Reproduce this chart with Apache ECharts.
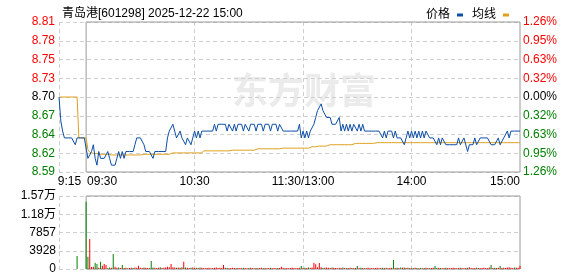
<!DOCTYPE html>
<html><head><meta charset="utf-8">
<script src="https://cdn.jsdelivr.net/npm/echarts@6/dist/echarts.min.js"></script>
<style>html,body{margin:0;padding:0;background:#fff}#c{width:578px;height:276px}</style>
</head><body><div id="c"></div>
<script>
const titleText = '青岛港[601298] 2025-12-22 15:00';
const prevClose = 8.70;
const priceRange = 0.11;
const priceStep = 0.0275;
const priceTickLabels = ['8.59','8.62','8.64','8.67','8.70','8.73','8.75','8.78','8.81'];
const pctTickLabels = ['1.26%','0.95%','0.63%','0.32%','0.00%','0.32%','0.63%','0.95%','1.26%'];
const volMax = 15714;
const volStep = 3928.5;
const volTickLabels = ['0','3928','7857','1.18万','1.57万'];
const timeTickIndex = [0,15,75,135,195,255];
const timeTickLabels = ['9:15','09:30','10:30','11:30/13:00','14:00','15:00'];
const gridLineIndex = [0,75,135,195];
const legendNames = ['价格','均线'];

const price = [
8.70,8.665,8.65,8.64,8.64,8.64,8.64,8.64,8.64,8.63,
8.64,8.64,8.64,8.64,8.64,8.64,8.61,8.61,8.62,8.63,
8.61,8.60,8.62,8.61,8.61,8.61,8.61,8.62,8.61,8.60,
8.60,8.60,8.61,8.62,8.61,8.62,8.61,8.62,8.62,8.62,
8.62,8.62,8.63,8.64,8.64,8.64,8.64,8.63,8.62,8.62,
8.62,8.62,8.61,8.62,8.62,8.62,8.62,8.62,8.62,8.62,
8.64,8.65,8.65,8.66,8.65,8.64,8.64,8.65,8.64,8.64,
8.63,8.64,8.64,8.63,8.64,8.65,8.64,8.65,8.64,8.65,
8.65,8.65,8.65,8.65,8.65,8.65,8.66,8.65,8.66,8.66,
8.66,8.66,8.66,8.65,8.66,8.66,8.65,8.66,8.65,8.66,
8.66,8.66,8.65,8.66,8.66,8.65,8.66,8.66,8.66,8.65,
8.66,8.66,8.66,8.65,8.66,8.66,8.66,8.65,8.66,8.66,
8.66,8.65,8.66,8.66,8.65,8.65,8.65,8.65,8.65,8.65,
8.65,8.65,8.65,8.66,8.64,8.65,8.64,8.65,8.64,8.65,
8.65,8.66,8.67,8.68,8.68,8.69,8.68,8.68,8.67,8.67,
8.67,8.66,8.66,8.66,8.66,8.67,8.65,8.66,8.65,8.66,
8.65,8.66,8.65,8.66,8.66,8.65,8.66,8.65,8.66,8.65,
8.65,8.65,8.65,8.65,8.65,8.65,8.65,8.65,8.65,8.64,
8.65,8.64,8.65,8.65,8.65,8.64,8.65,8.64,8.64,8.64,
8.64,8.63,8.64,8.65,8.64,8.65,8.64,8.65,8.64,8.65,
8.64,8.65,8.64,8.65,8.65,8.64,8.64,8.64,8.64,8.63,
8.64,8.63,8.64,8.64,8.63,8.63,8.63,8.63,8.63,8.63,
8.63,8.64,8.63,8.63,8.64,8.64,8.62,8.63,8.63,8.63,
8.64,8.63,8.63,8.64,8.64,8.64,8.64,8.64,8.64,8.63,
8.63,8.63,8.63,8.64,8.63,8.63,8.64,8.64,8.65,8.64,
8.65,8.65,8.65,8.65,8.65,8.65
];

const avgPrice = [
8.70,8.70,8.70,8.70,8.70,8.70,8.70,8.70,8.70,8.70,
8.70,8.64,8.64,8.64,8.64,8.64,8.623,8.619,8.618,8.617,
8.617,8.617,8.617,8.616,8.616,8.616,8.616,8.616,8.616,8.615,
8.615,8.615,8.615,8.615,8.615,8.615,8.615,8.615,8.615,8.615,
8.615,8.615,8.615,8.615,8.615,8.615,8.616,8.616,8.616,8.616,
8.616,8.616,8.616,8.616,8.616,8.616,8.616,8.616,8.616,8.616,
8.616,8.616,8.618,8.618,8.618,8.618,8.618,8.618,8.618,8.618,
8.618,8.618,8.618,8.618,8.618,8.618,8.618,8.618,8.618,8.618,
8.621,8.621,8.621,8.621,8.621,8.621,8.621,8.621,8.621,8.621,
8.621,8.621,8.621,8.621,8.621,8.621,8.622,8.622,8.622,8.622,
8.622,8.622,8.622,8.622,8.622,8.622,8.622,8.622,8.622,8.622,
8.624,8.624,8.624,8.624,8.624,8.624,8.624,8.624,8.624,8.624,
8.624,8.624,8.624,8.625,8.625,8.625,8.625,8.625,8.625,8.625,
8.625,8.625,8.625,8.625,8.625,8.625,8.625,8.625,8.625,8.627,
8.627,8.627,8.627,8.627,8.628,8.628,8.628,8.628,8.628,8.628,
8.630,8.630,8.630,8.630,8.630,8.630,8.630,8.630,8.630,8.630,
8.630,8.630,8.630,8.630,8.632,8.632,8.632,8.632,8.632,8.632,
8.632,8.632,8.632,8.632,8.632,8.632,8.633,8.633,8.633,8.633,
8.633,8.633,8.633,8.633,8.633,8.633,8.633,8.633,8.633,8.633,
8.633,8.633,8.633,8.633,8.633,8.633,8.633,8.633,8.633,8.633,
8.633,8.633,8.633,8.633,8.633,8.633,8.633,8.633,8.633,8.633,
8.633,8.633,8.633,8.633,8.633,8.633,8.633,8.633,8.633,8.633,
8.633,8.633,8.633,8.633,8.633,8.633,8.633,8.633,8.633,8.633,
8.633,8.633,8.633,8.633,8.633,8.633,8.633,8.633,8.633,8.633,
8.633,8.633,8.633,8.633,8.633,8.633,8.633,8.633,8.633,8.633,
8.633,8.633,8.633,8.633,8.633,8.633
];

const volume = [
0,0,0,0,0,0,0,0,0,0,
2800,0,0,0,0,14500,2650,6450,450,500,
1360,1080,290,1580,720,1080,860,180,300,250,
3230,500,250,300,220,860,200,250,180,200,
250,200,300,280,720,250,200,300,250,220,
200,1720,300,250,200,250,350,200,250,300,
500,350,1080,400,300,250,300,250,400,1580,
300,250,200,250,300,200,250,200,300,250,
200,150,200,250,150,200,250,300,200,250,
200,860,250,200,150,200,250,200,150,200,
200,150,250,200,150,200,250,200,150,200,
150,200,250,150,200,150,200,250,150,200,
150,200,200,500,250,150,200,150,200,250,
200,150,200,250,650,200,250,200,300,250,
300,1360,1000,400,1290,350,200,250,300,250,
200,300,250,200,150,250,200,300,200,150,
200,250,200,150,200,650,200,250,200,150,
200,250,150,200,150,200,250,150,200,250,
200,250,150,200,250,1940,200,250,200,300,
250,300,200,250,200,150,200,250,200,150,
200,150,200,250,200,150,200,250,650,200,
250,200,150,200,250,200,150,200,250,200,
150,200,250,200,150,200,250,400,200,150,
200,250,200,150,200,250,200,150,300,860,
200,250,200,250,650,200,250,200,300,400,
250,200,300,250,250,720
];

const downBars = [10,15,16,20,21,23,27,28,30,33,35,38,41,47,51,52,56,65,68,70,73,76,78,93,98,102,105,109,113,117,121,134,136,138,146,151,157,159,162,165,167,169,179,181,185,187,189,191,194,196,198,200,202,205,208,209,211,214,222,226,231,239,241,244,252];

// minute categories 9:15..11:30, 13:01..15:00
const minutes = [];
function pad(n){return (n<10?'0':'')+n;}
for (let m = 9*60+15; m <= 11*60+30; m++) minutes.push(Math.floor(m/60)+':'+pad(m%60));
for (let m = 13*60+1; m <= 15*60; m++) minutes.push(Math.floor(m/60)+':'+pad(m%60));

const FONT = "'Liberation Sans','Noto Sans CJK SC',sans-serif";
const RED = '#ff0000', GREEN = '#008000';
const downSet = new Set(downBars);
const priceOffset = price.map(p => +(p - prevClose).toFixed(4));
const avgOffset = avgPrice.map(p => +(p - prevClose).toFixed(4));

function offColor(v){ v = Number(v); if (v > 1e-6) return RED; if (v < -1e-6) return GREEN; return '#000'; }
const dashed = {show:true, lineStyle:{color:'#cfcfcf', type:[4,3], width:1}};
const xSplit = {show:true, interval:(i)=>gridLineIndex.indexOf(i)>=0, lineStyle:{color:'#cfcfcf', type:[4,3], width:1}};
function borderArea(){ return {silent:true, itemStyle:{color:'rgba(0,0,0,0)', borderColor:'#9a9a9a', borderWidth:1},
  data:[[{xAxis:15},{xAxis:255}]]}; }

const chart = echarts.init(document.getElementById('c'), null, {renderer:'canvas'});
chart.setOption({
  animation:false,
  backgroundColor:'#fff',
  title:{text:titleText, left:57, top:3, textStyle:{fontSize:12, fontWeight:'normal', color:'#000', fontFamily:FONT}},
  legend:{data:legendNames, right:64, top:4, icon:'rect', itemWidth:6, itemHeight:3, itemGap:9, align:'right',
    textStyle:{fontSize:12, color:'#000', fontFamily:FONT, padding:[0,2,0,0]}},
  graphic:[{type:'text', left:232, top:72, z:-10, silent:true,
    style:{text:'东方财富', fontSize:36, fontWeight:'bold', fill:'#ebebeb', fontFamily:"'Noto Sans CJK SC'"}}],
  grid:[{left:59, right:58, top:22, height:150}, {left:59, right:58, top:196, height:73}],
  xAxis:[
    {type:'category', gridIndex:0, data:minutes, boundaryGap:false,
      axisLine:{show:false}, axisTick:{show:false}, splitLine:xSplit,
      axisLabel:{show:true, margin:4, fontSize:12, color:'#000', fontFamily:FONT,
        interval:(i)=>timeTickIndex.indexOf(i)>=0,
        formatter:(v,i)=>{const k=timeTickIndex.indexOf(i); if(k<0) return '';
          if(k===0) return '{l|'+timeTickLabels[k]+'}';
          if(k===1) return '{a|'+timeTickLabels[k]+'}';
          if(k===5) return '{r|'+timeTickLabels[k]+'}';
          return timeTickLabels[k];},
        rich:{l:{padding:[0,0,0,21], fontSize:12, fontFamily:FONT, color:'#000'},
              a:{padding:[0,0,0,32], fontSize:12, fontFamily:FONT, color:'#000'},
              r:{padding:[0,30,0,0], fontSize:12, fontFamily:FONT, color:'#000'}}}},
    {type:'category', gridIndex:1, data:minutes, boundaryGap:false,
      axisLine:{show:false}, axisTick:{show:false}, axisLabel:{show:false}, splitLine:xSplit}
  ],
  yAxis:[
    {type:'value', gridIndex:0, min:-priceRange, max:priceRange, interval:priceStep, position:'left',
      axisLine:{show:false}, axisTick:{show:false}, splitLine:dashed,
      axisLabel:{margin:4, fontSize:12, fontFamily:FONT, color:(v)=>offColor(v),
        formatter:(v)=>priceTickLabels[Math.round((v+priceRange)/priceStep)]}},
    {type:'value', gridIndex:0, min:-priceRange, max:priceRange, interval:priceStep, position:'right',
      axisLine:{show:false}, axisTick:{show:false}, splitLine:{show:false},
      axisLabel:{margin:3, fontSize:12, fontFamily:FONT, color:(v)=>offColor(v),
        formatter:(v)=>pctTickLabels[Math.round((v+priceRange)/priceStep)]}},
    {type:'value', gridIndex:1, min:0, max:volMax, interval:volStep, position:'left',
      axisLine:{show:false}, axisTick:{show:false}, splitLine:dashed,
      axisLabel:{margin:3, fontSize:12, fontFamily:FONT, color:'#000',
        formatter:(v)=>volTickLabels[Math.round(v/volStep)]}}
  ],
  series:[
    {name:'价格', type:'line', xAxisIndex:0, yAxisIndex:0, data:priceOffset, showSymbol:false, symbol:'none',
      lineStyle:{color:'#0d4ea6', width:1}, itemStyle:{color:'#0d4ea6'}, z:3, markArea:borderArea()},
    {name:'均线', type:'line', xAxisIndex:0, yAxisIndex:0, data:avgOffset, showSymbol:false, symbol:'none',
      lineStyle:{color:'#dea01e', width:1}, itemStyle:{color:'#dea01e'}, z:2},
    {name:'成交量', type:'bar', xAxisIndex:1, yAxisIndex:2, data:volume, barWidth:1,
      itemStyle:{color:(p)=>downSet.has(p.dataIndex)?GREEN:RED}},
    {name:'frame', type:'line', xAxisIndex:1, yAxisIndex:2, data:[], symbol:'none', silent:true,
      markArea:borderArea()}
  ]
});
</script></body></html>
